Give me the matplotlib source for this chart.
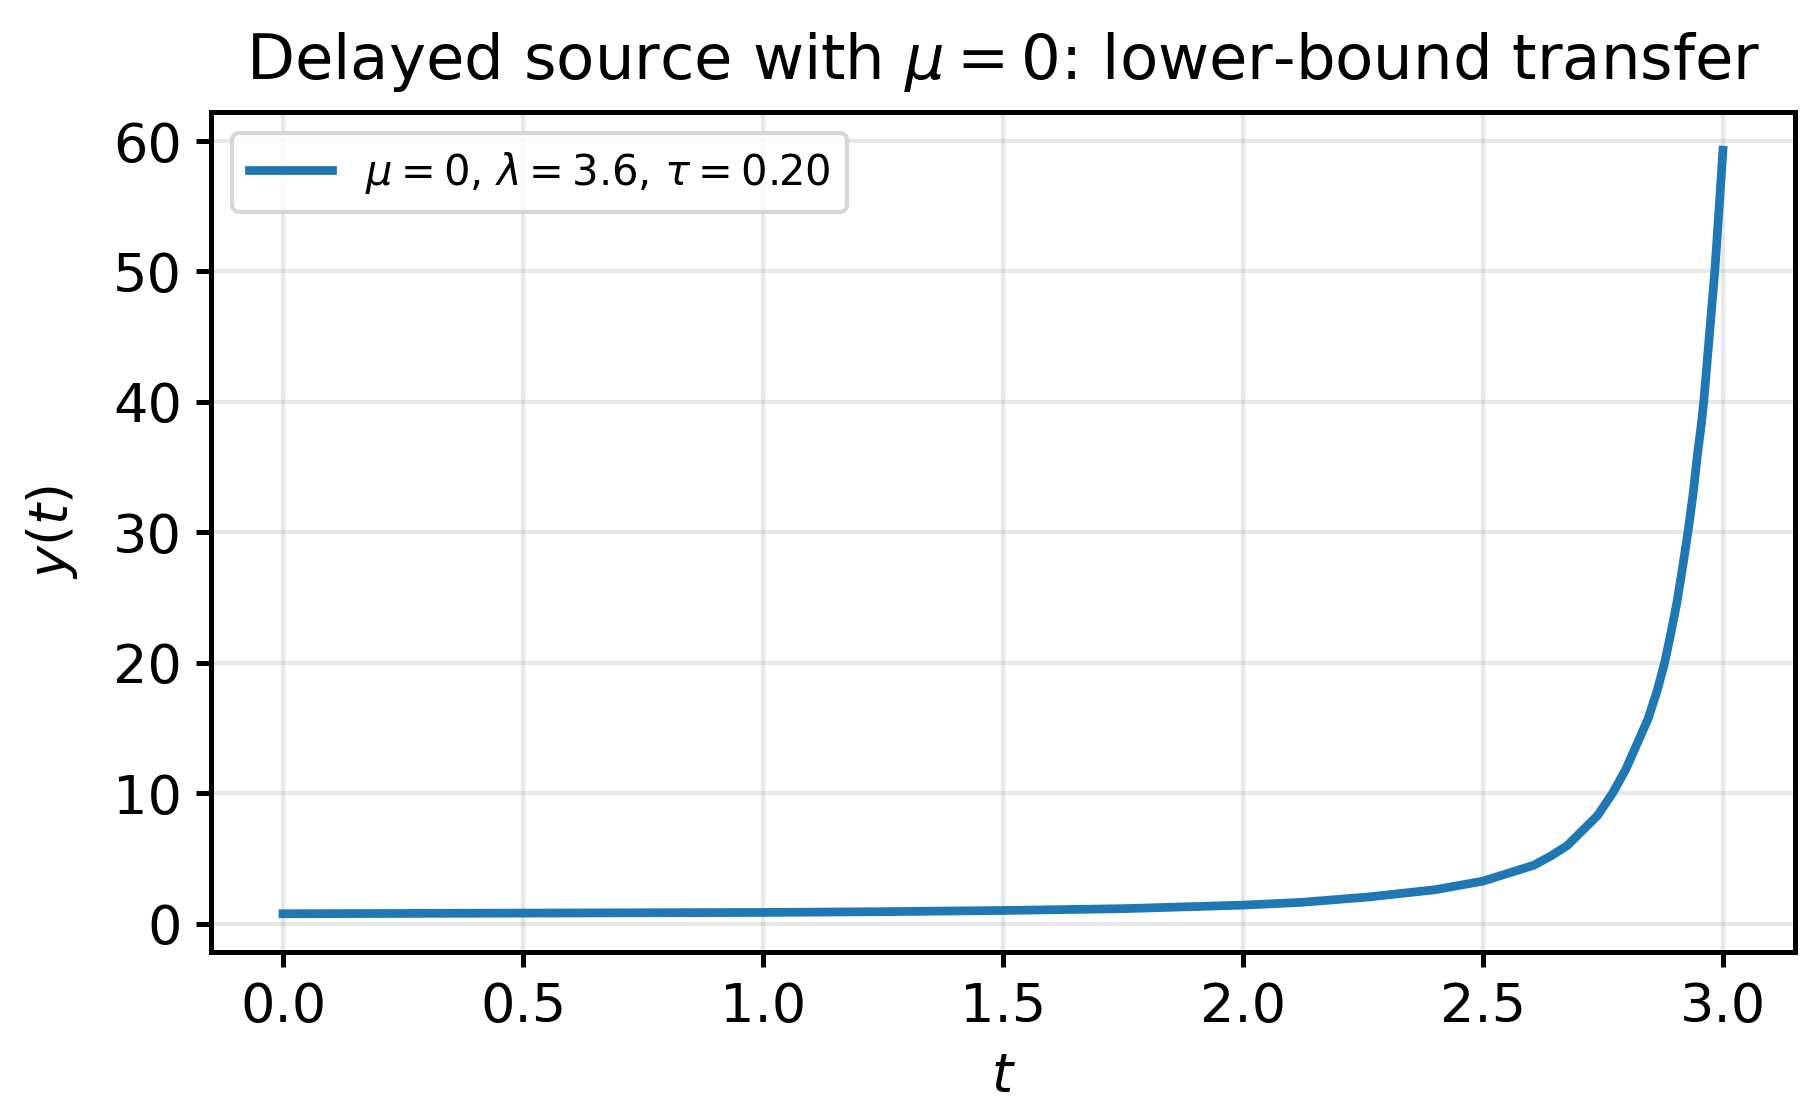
import numpy as np
import matplotlib
matplotlib.use("Agg")
from matplotlib import pyplot as plt

# values
t = [0.0, 0.5, 1.0, 1.25, 1.5, 1.75, 2.0, 2.12, 2.26, 2.40, 2.5,
     2.606, 2.642, 2.676, 2.739, 2.770, 2.798, 2.844, 2.8625, 2.8785,
     2.890, 2.904, 2.915, 2.927, 2.938, 2.947, 2.955, 2.960, 2.983,
     2.993, 3.0]
y = [0.76, 0.81, 0.86, 0.92, 1.01, 1.15, 1.42, 1.63, 2.04, 2.60, 3.26,
     4.48, 5.2, 6.0, 8.3, 10.0, 11.86, 15.7, 17.8, 20.0,
     22.0, 24.6, 27.1, 30.0, 33.0, 36.0, 38.3, 40.0, 50.0,
     55.4, 59.3]

label = r"$\mu = 0$, $\lambda = 3.6$, $\tau = 0.20$"
title = r"Delayed source with $\mu = 0$: lower-bound transfer"

fig, ax = plt.subplots(figsize=(1816 / 300, 1119 / 300), dpi=300)
fig.subplots_adjust(left=0.1162, right=0.9884, top=0.8999, bottom=0.1493)

ax.plot(t, y, color="#1f77b4", lw=2.1, label=label)
ax.grid(True, alpha=0.3, lw=1.0)
for s in ax.spines.values():
    s.set_linewidth(1.2)
ax.tick_params(labelsize=13, width=1.2)
ax.set_xlabel(r"$t$", fontsize=13)
ax.set_ylabel(r"$y(t)$", fontsize=13, labelpad=8)
ax.set_title(title, fontsize=15, pad=8)
ax.legend(loc="upper left", fontsize=10)

fig.savefig("out.png", dpi=300)
